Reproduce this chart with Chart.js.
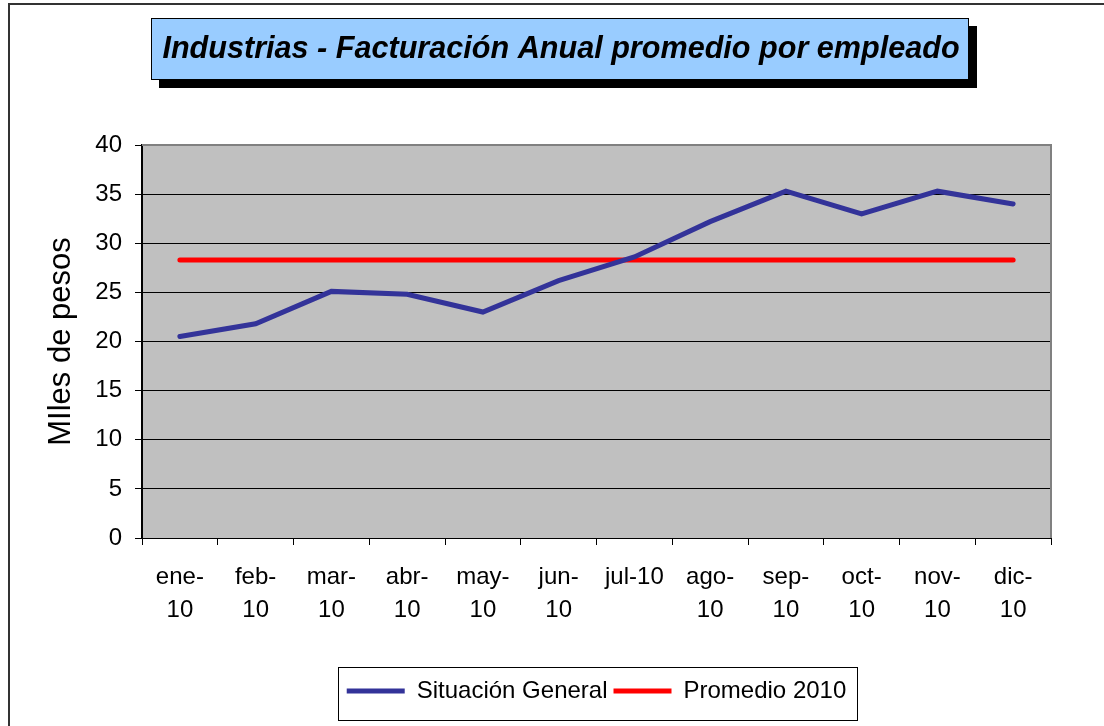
<!DOCTYPE html>
<html>
<head>
<meta charset="utf-8">
<script src="https://cdn.jsdelivr.net/npm/chart.js@4.4.0/dist/chart.umd.min.js"></script>
<style>
  body { margin: 0; background: #fff; }
  canvas { display: block; }
</style>
</head>
<body>
<canvas id="grafico" width="1104" height="726"></canvas>
<script>
// datos
const meses = [['ene-', '10'], ['feb-', '10'], ['mar-', '10'], ['abr-', '10'], ['may-', '10'], ['jun-', '10'],
  ['jul-10'], ['ago-', '10'], ['sep-', '10'], ['oct-', '10'], ['nov-', '10'], ['dic-', '10']];
const situacionGeneral = [20.5, 21.8, 25.1, 24.8, 23.0, 26.2, 28.6, 32.2, 35.3, 33.0, 35.3, 34.0];
const promedio2010 = [28.3, 28.3, 28.3, 28.3, 28.3, 28.3, 28.3, 28.3, 28.3, 28.3, 28.3, 28.3];
const titulo = 'Industrias - Facturación Anual promedio por empleado';
const tituloEje = 'MIles de pesos';

const fuente = '"Liberation Sans", Arial, sans-serif';

// fondo, marco, caja del titulo y recuadro de la leyenda
const marco = {
  id: 'marco',
  beforeDraw(chart) {
    const { ctx, chartArea: a } = chart;
    ctx.save();
    ctx.fillStyle = '#fff';
    ctx.fillRect(0, 0, chart.width, chart.height);
    ctx.fillStyle = '#C0C0C0';
    ctx.fillRect(a.left, a.top, a.width, a.height);
    ctx.restore();
  },
  beforeDatasetsDraw(chart) {
    const { ctx, chartArea: a } = chart;
    ctx.save();
    ctx.strokeStyle = '#808080';
    ctx.lineWidth = 2;
    ctx.beginPath();
    ctx.moveTo(a.left, a.top);
    ctx.lineTo(a.right, a.top);
    ctx.lineTo(a.right, a.bottom);
    ctx.stroke();
    ctx.restore();
  },
  afterDraw(chart) {
    const { ctx } = chart;
    ctx.save();
    // marco exterior
    ctx.strokeStyle = '#333';
    ctx.lineWidth = 2;
    ctx.beginPath();
    ctx.moveTo(9, chart.height);
    ctx.lineTo(9, 4);
    ctx.lineTo(chart.width, 4);
    ctx.stroke();

    // caja del titulo con sombra
    ctx.fillStyle = '#000';
    ctx.fillRect(159, 26, 818, 62);
    ctx.fillStyle = '#99CCFF';
    ctx.fillRect(151, 18, 818, 62);
    ctx.strokeStyle = '#000';
    ctx.lineWidth = 1;
    ctx.strokeRect(151.5, 18.5, 817, 61);
    ctx.fillStyle = '#000';
    ctx.font = 'italic bold 30.6px ' + fuente;
    ctx.textAlign = 'center';
    ctx.textBaseline = 'middle';
    ctx.fillText(titulo, 561, 50);

    // recuadro de la leyenda
    const hb = chart.legend.legendHitBoxes;
    if (hb && hb.length) {
      const primero = hb[0];
      const ultimo = hb[hb.length - 1];
      const cy = primero.top + primero.height / 2;
      const x0 = Math.round(primero.left - 9) + 0.5;
      const x1 = Math.round(ultimo.left + ultimo.width + 11) + 0.5;
      ctx.strokeStyle = '#000';
      ctx.lineWidth = 1;
      ctx.strokeRect(x0, Math.round(cy - 24) + 0.5, x1 - x0, 53);
    }
    ctx.restore();
  }
};

new Chart(document.getElementById('grafico'), {
  type: 'line',
  data: {
    labels: meses,
    datasets: [
      {
        label: 'Situación General',
        data: situacionGeneral,
        borderColor: '#333399',
        backgroundColor: '#333399',
        borderWidth: 5,
        borderCapStyle: 'round',
        pointRadius: 0,
        tension: 0
      },
      {
        label: 'Promedio 2010',
        data: promedio2010,
        borderColor: '#FF0000',
        backgroundColor: '#FF0000',
        borderWidth: 5,
        borderCapStyle: 'round',
        pointRadius: 0,
        tension: 0
      }
    ]
  },
  options: {
    responsive: false,
    animation: false,
    layout: { padding: { left: 30, top: 145, right: 53, bottom: 13 } },
    plugins: {
      title: { display: false },
      tooltip: { enabled: false },
      legend: {
        position: 'bottom',
        fullSize: false,
        labels: {
          usePointStyle: true,
          pointStyle: 'line',
          pointStyleWidth: 58,
          padding: 6,
          color: '#000',
          font: { family: fuente, size: 24 }
        }
      }
    },
    scales: {
      x: {
        offset: true,
        afterFit(scale) { scale.height = 135; },
        grid: {
          offset: true,
          drawOnChartArea: false,
          drawTicks: true,
          tickLength: 7,
          tickColor: '#000'
        },
        border: { color: '#000', width: 1 },
        ticks: {
          color: '#000',
          padding: 16,
          maxRotation: 0,
          autoSkip: false,
          font: { family: fuente, size: 24, lineHeight: 1.375 }
        }
      },
      y: {
        min: 0,
        max: 40,
        afterFit(scale) { scale.width = 112; },
        grid: {
          color: '#000',
          lineWidth: 1,
          tickLength: 7,
          tickColor: '#000'
        },
        border: { color: '#000', width: 2 },
        ticks: {
          stepSize: 5,
          color: '#000',
          padding: 13,
          font: { family: fuente, size: 24 }
        },
        title: {
          display: true,
          text: tituloEje,
          color: '#000',
          padding: { top: 13, bottom: 0 },
          font: { family: fuente, size: 31, lineHeight: 1.2 }
        }
      }
    }
  },
  plugins: [marco]
});
</script>
</body>
</html>
